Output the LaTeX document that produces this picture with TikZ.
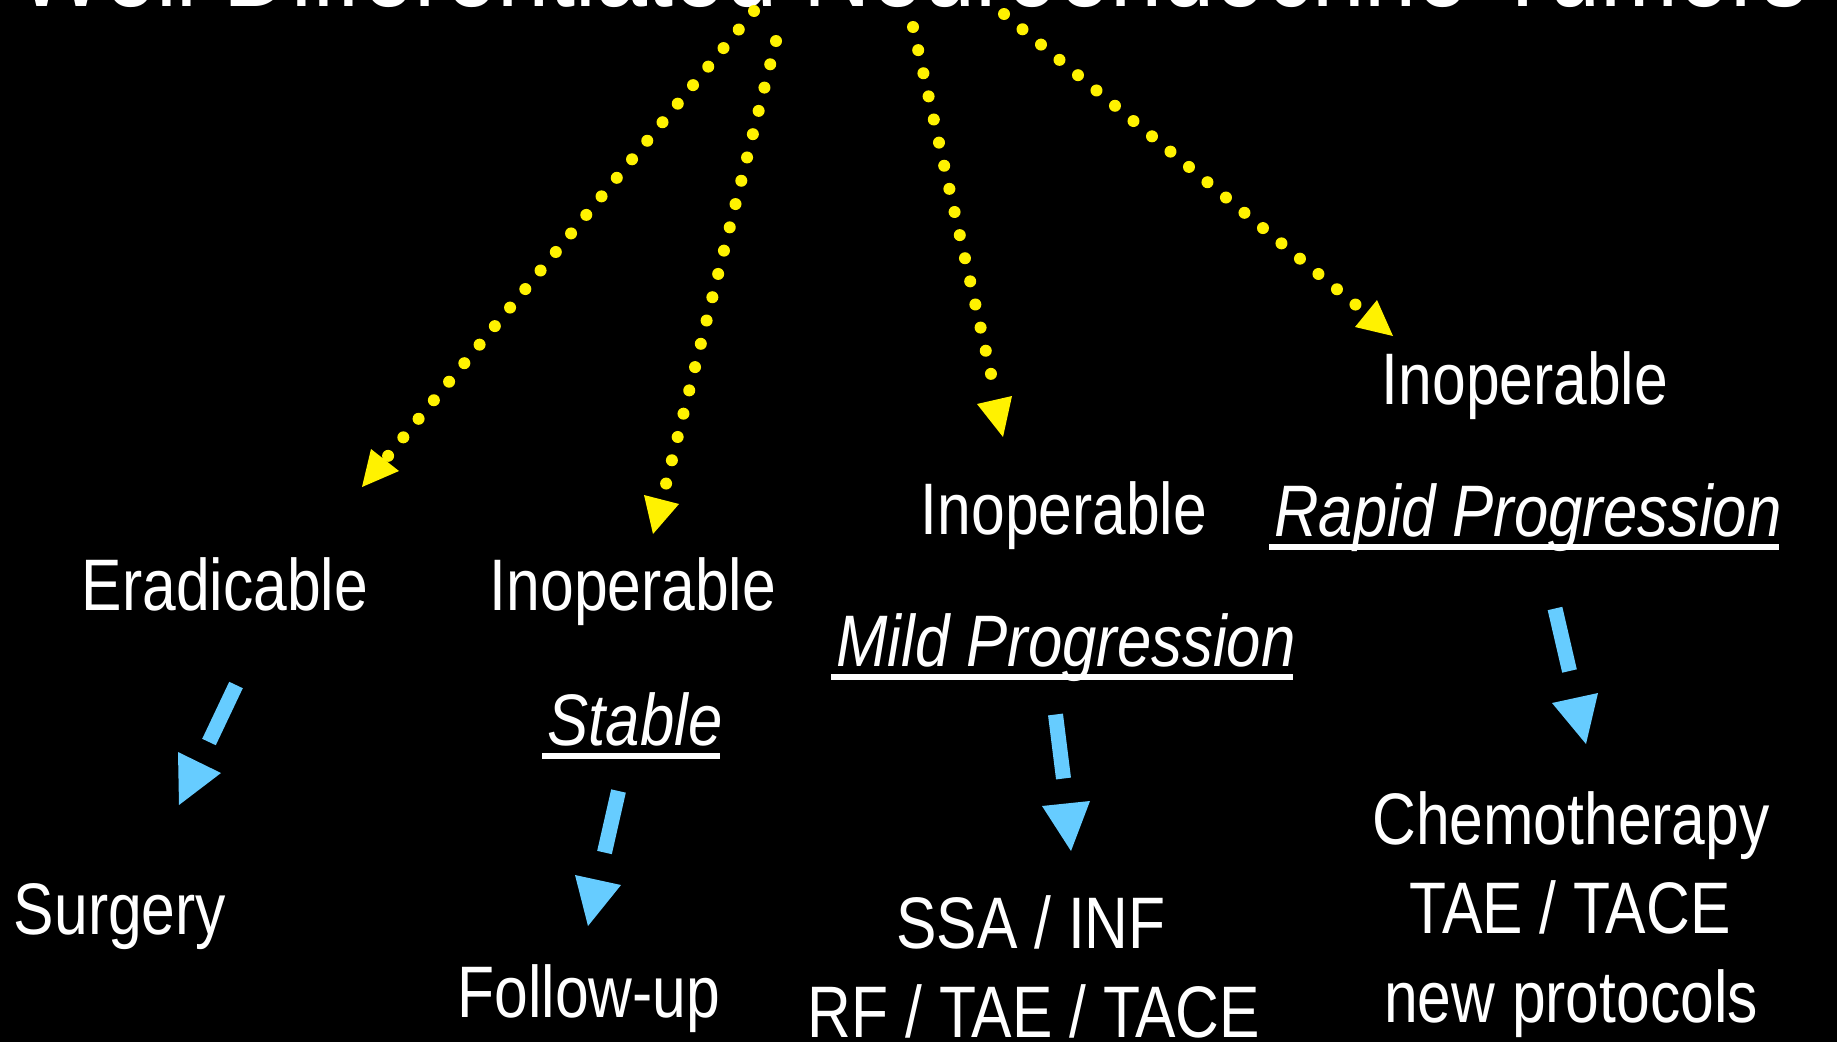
\documentclass[tikz,border=0pt]{standalone}
\usepackage{fontspec}
\newfontfamily\titlesans[FakeStretch=0.82]{Liberation Sans}
\newfontfamily\narrowsans[FakeStretch=0.83]{Liberation Sans}
\newfontfamily\narrowital[FakeStretch=0.845]{Liberation Sans Italic}
\definecolor{skyb}{HTML}{66CCFF}
\begin{document}
\begin{tikzpicture}[x=1pt,y=-1pt,
  lbl/.style={font=\narrowsans\fontsize{73}{89}\selectfont, text=white, inner sep=0pt, anchor=base},
  ilbl/.style={lbl, font=\narrowital\fontsize{73}{89}\selectfont},
  ttl/.style={lbl, font=\titlesans\fontsize{114}{130}\selectfont},
  ydots/.style={draw=yellow, line width=12pt, line cap=round, dash pattern=on 0pt off 24pt},
  yhead/.style={fill=yellow},
  bshaft/.style={draw=skyb, line width=15pt},
  bhead/.style={fill=skyb},
  uline/.style={draw=white, line width=5.5pt}]

% canvas
\useasboundingbox (0,0) rectangle (1837,1042);
\fill[black] (0,0) rectangle (1837,1042);
\clip (0,0) rectangle (1837,1042);

% title
\node[ttl] (title) at (913,6) {Well Differentiated Neuroendocrine Tumors};

% first level
\node[lbl] (erad)  at (225,610)  {Eradicable};
\node[lbl] (inopA) at (633,610)  {Inoperable};
\node[lbl] (inopB) at (1064,534) {Inoperable};
\node[lbl] (inopC) at (1525,404) {Inoperable};

% course of disease
\node[ilbl] (stable) at (635,745)    {Stable};
\node[ilbl] (mild)   at (1066,666) {Mild Progression};
\node[ilbl] (rapid)  at (1528,536) {Rapid Progression};
\foreach \n in {stable,mild,rapid}
  \draw[uline] ([xshift=-5pt,yshift=-11pt]\n.base west) -- ([xshift=-3pt,yshift=-11pt]\n.base east);

% treatments
\node[lbl] (surg)   at (120,934)  {Surgery};
\node[lbl] (follow) at (589,1017) {Follow-up};
\node[lbl] (ssa)    at (1031,948) {SSA / INF};
\node[lbl] (rf)     at (1034,1037) {RF / TAE / TACE};
\node[lbl] (chemo)  at (1571,844) {Chemotherapy};
\node[lbl] (tae)    at (1570,933) {TAE / TACE};
\node[lbl] (newp)   at (1571,1022) {new protocols};

% dotted yellow branches from the title
\coordinate (y1s) at (754,11);   \coordinate (y1e) at (388,456);
\coordinate (y2s) at (776,41);   \coordinate (y2e) at (666,484);
\coordinate (y3s) at (913,27);   \coordinate (y3e) at (991,374);
\coordinate (y4s) at (1004,14);  \coordinate (y4e) at (1356,305);
\draw[ydots] (y1s) -- (y1e);
\draw[ydots] (y2s) -- (y2e);
\draw[ydots, dash pattern=on 0pt off 23.7pt] (y3s) -- (y3e);
\draw[ydots] (y4s) -- (y4e);
\fill[yhead] (362,487) -- (371,449) -- (399,471) -- cycle;
\fill[yhead] (653,534) -- (644,495) -- (679,504) -- cycle;
\fill[yhead] (977,404) -- (1012,396) -- (1003,437) -- cycle;
\fill[yhead] (1377,300) -- (1355,327) -- (1393,336) -- cycle;

% blue arrows to the treatments
\coordinate (bAs) at (236,685);     \coordinate (bAe) at (209,742);
\coordinate (bBs) at (618.5,791);   \coordinate (bBe) at (604.5,852.5);
\coordinate (bCs) at (1055.5,714.5);\coordinate (bCe) at (1063.5,778.5);
\coordinate (bDs) at (1555,608.5);  \coordinate (bDe) at (1569.5,671);
\draw[bshaft] (bAs) -- (bAe);
\draw[bshaft] (bBs) -- (bBe);
\draw[bshaft] (bCs) -- (bCe);
\draw[bshaft] (bDs) -- (bDe);
\fill[bhead] (178,752) -- (221,773) -- (179,805) -- cycle;
\fill[bhead] (575,875) -- (621,885) -- (588,926) -- cycle;
\fill[bhead] (1042,806) -- (1090,801) -- (1071,851) -- cycle;
\fill[bhead] (1552,703) -- (1598,693) -- (1586,744) -- cycle;
\end{tikzpicture}
\end{document}
